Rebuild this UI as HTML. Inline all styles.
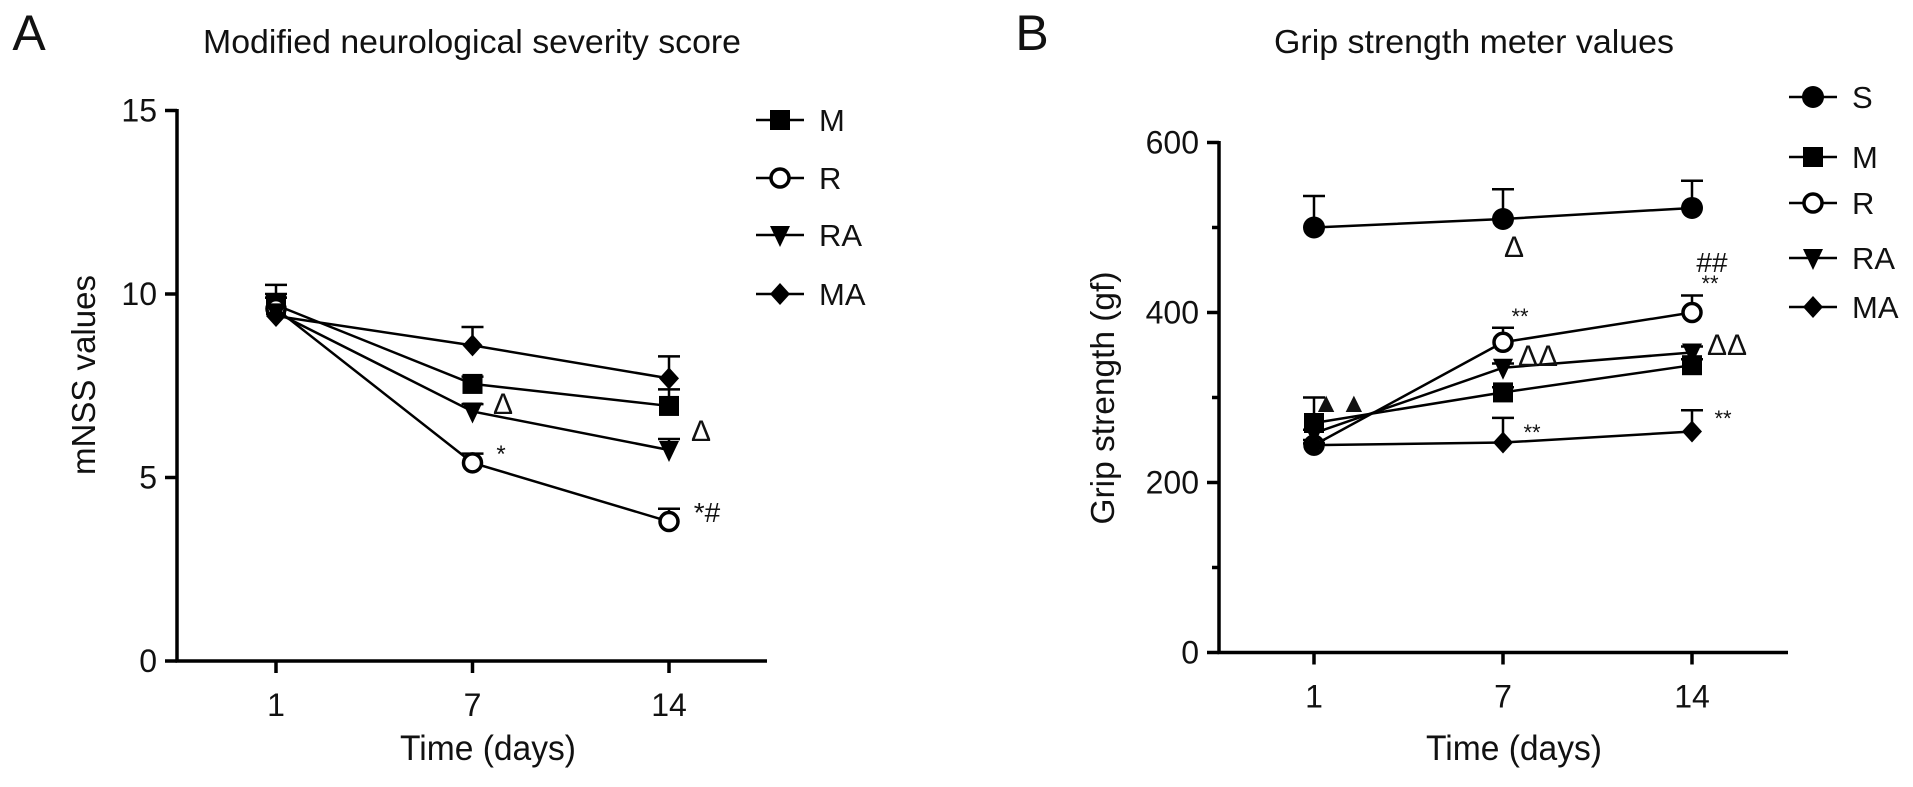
<!DOCTYPE html>
<html><head><meta charset="utf-8"><style>
html,body{margin:0;padding:0;background:#fff;}
svg{display:block;font-family:"Liberation Sans",Arial,sans-serif;}
</style></head><body>
<svg id="c" width="1913" height="787" viewBox="0 0 1913 787"></svg>
<script>
const days = ["1","7","14"];
const aTicks = [0,5,10,15];
const aM = [9.7,7.55,6.95], aMe=[10.0,7.75,7.4];
const aR = [9.6,5.4,3.8], aRe=[9.9,5.65,4.15];
const aRA = [9.5,6.8,5.75], aRAe=[9.9,7.0,6.05];
const aMA = [9.4,8.6,7.7], aMAe=[10.25,9.1,8.3];
const bTicks = [0,200,400,600];
const bMinor = [100,300,500];
const bS = [500,510,523], bSe=[537,545,555];
const bM = [270,306,338], bMe=[300,312,345];
const bR = [244,365,400], bRe=[250,382,420];
const bRA = [258,335,353], bRAe=[262,340,360];
const bMA = [244,247,260], bMAe=[246,276,285];

const svg=document.getElementById('c');
const NS='http://www.w3.org/2000/svg';
function el(t,a,name){const e=document.createElementNS(NS,t);for(const k in a)e.setAttribute(k,a[k]);


svg.appendChild(e);return e;}
function txt(x,y,s,size,anchor,name,extra){const e=el('text',Object.assign({x:x,y:y,'font-size':size,'text-anchor':anchor||'middle',fill:'#111'},extra||{}),name);e.textContent=s;return e;}
function marker(type,x,y,name){
  const r=10;
  if(type==='square') el('rect',{x:x-r,y:y-r,width:2*r,height:2*r,fill:'#000'},name);
  else if(type==='circle') el('circle',{cx:x,cy:y,r:r+1,fill:'#000'},name);
  else if(type==='open') el('circle',{cx:x,cy:y,r:r-1,fill:'#fff',stroke:'#000','stroke-width':3.5},name);
  else if(type==='tri') el('polygon',{points:`${x-r},${y-r+1} ${x+r},${y-r+1} ${x},${y+r+2}`,fill:'#000'},name);
  else if(type==='diamond') el('polygon',{points:`${x},${y-r-1} ${x+r},${y} ${x},${y+r+1} ${x-r},${y}`,fill:'#000'},name);
}
function panel(cfg){
  const X=i=>cfg.x0+i*cfg.dx;
  const Y=v=>cfg.y0-(v-0)*(cfg.y0-cfg.yTop)/cfg.yMax;
  el('line',{x1:cfg.ax,y1:Y(cfg.yMax)-1.5,x2:cfg.ax,y2:cfg.y0+1.5,stroke:'#000','stroke-width':3.5},cfg.p+'-y-axis');
  el('line',{x1:cfg.ax-1.5,y1:cfg.y0,x2:cfg.axEnd,y2:cfg.y0,stroke:'#000','stroke-width':3.5},cfg.p+'-x-axis');
  cfg.ticks.forEach(v=>{el('line',{x1:cfg.ax-12,y1:Y(v),x2:cfg.ax,y2:Y(v),stroke:'#000','stroke-width':3.5},cfg.p+'-y-tick');
    txt(cfg.ax-20,Y(v)+11,String(v),32,'end',cfg.p+'-y-tick-label');});
  (cfg.minor||[]).forEach(v=>el('line',{x1:cfg.ax-7,y1:Y(v),x2:cfg.ax,y2:Y(v),stroke:'#000','stroke-width':3.5},cfg.p+'-y-minor-tick'));
  days.forEach((d,i)=>{el('line',{x1:X(i),y1:cfg.y0,x2:X(i),y2:cfg.y0+12,stroke:'#000','stroke-width':3.5},cfg.p+'-x-tick');
    txt(X(i),cfg.y0+55,d,32,'middle',cfg.p+'-x-tick-label');});
  cfg.series.forEach(s=>{
    s.e.forEach((ev,i)=>{if(ev>s.v[i]){el('line',{x1:X(i),y1:Y(s.v[i]),x2:X(i),y2:Y(ev),stroke:'#000','stroke-width':2.5},cfg.p+'-error-bar');
      el('line',{x1:X(i)-11,y1:Y(ev),x2:X(i)+11,y2:Y(ev),stroke:'#000','stroke-width':2.5},cfg.p+'-error-cap');}});
    el('polyline',{points:s.v.map((v,i)=>X(i)+','+Y(v)).join(' '),fill:'none',stroke:'#000','stroke-width':2.5},cfg.p+'-line-'+s.n.toLowerCase());
  });
  cfg.series.forEach(s=>s.v.forEach((v,i)=>marker(s.m,X(i),Y(v),cfg.p+'-point-'+s.n.toLowerCase())));
  cfg.series.forEach((s,k)=>{const ly=cfg.legY[k];
    el('line',{x1:cfg.legX-24,y1:ly,x2:cfg.legX+24,y2:ly,stroke:'#000','stroke-width':2.5},'legend-line-'+s.n.toLowerCase());
    marker(s.m,cfg.legX,ly,'legend-marker-'+s.n.toLowerCase());
    txt(cfg.legX+39,ly+11,s.n,31,'start','legend-label-'+s.n.toLowerCase());});
}
panel({p:'a',ax:177,axEnd:767,x0:276,dx:196.5,y0:661,yTop:110.5,yMax:15,ticks:aTicks,
 series:[{n:'M',m:'square',v:aM,e:aMe},{n:'R',m:'open',v:aR,e:aRe},{n:'RA',m:'tri',v:aRA,e:aRAe},{n:'MA',m:'diamond',v:aMA,e:aMAe}],
 legX:780,legY:[120,178,235,294]});
panel({p:'b',ax:1219,axEnd:1788,x0:1314,dx:189,y0:652.5,yTop:142.5,yMax:600,ticks:bTicks,minor:bMinor,
 series:[{n:'S',m:'circle',v:bS,e:bSe},{n:'M',m:'square',v:bM,e:bMe},{n:'R',m:'open',v:bR,e:bRe},{n:'RA',m:'tri',v:bRA,e:bRAe},{n:'MA',m:'diamond',v:bMA,e:bMAe}],
 legX:1813,legY:[97,157,203,258,307]});
// titles
txt(29,50,'A',50,'middle','panel-label-a');
txt(1032,50,'B',50,'middle','panel-label-b');
txt(472,53,'Modified neurological severity score',33,'middle','chart-title-a',{textLength:538,lengthAdjust:'spacingAndGlyphs'});
txt(1474,53,'Grip strength meter values',33,'middle','chart-title-b',{textLength:400,lengthAdjust:'spacingAndGlyphs'});
txt(488,760,'Time (days)',35,'middle','x-axis-title-a',{textLength:176,lengthAdjust:'spacingAndGlyphs'});
txt(1514,760,'Time (days)',35,'middle','x-axis-title-b',{textLength:176,lengthAdjust:'spacingAndGlyphs'});
txt(95,375,'mNSS values',33,'middle','y-axis-title-a',{transform:'rotate(-90 95 375)',textLength:200,lengthAdjust:'spacingAndGlyphs'});
txt(1114,398,'Grip strength (gf)',33,'middle','y-axis-title-b',{transform:'rotate(-90 1114 398)',textLength:253,lengthAdjust:'spacingAndGlyphs'});
// annotations
const ann=[[503,414,'Δ',30],[701,441,'Δ',30],[501,462,'*',24],[707,522,'*#',28],
[1340,412,'▲▲',28],[1514,257,'Δ',30],[1712,272,'##',28],[1710,291,'**',22],[1520,324,'**',22],
[1538,366,'ΔΔ',30],[1727,355,'ΔΔ',30],[1532,440,'**',22],[1723,426,'**',22]];
ann.forEach(a=>txt(a[0],a[1],a[2],a[3],'middle','significance-marker'));
</script>
</body></html>
